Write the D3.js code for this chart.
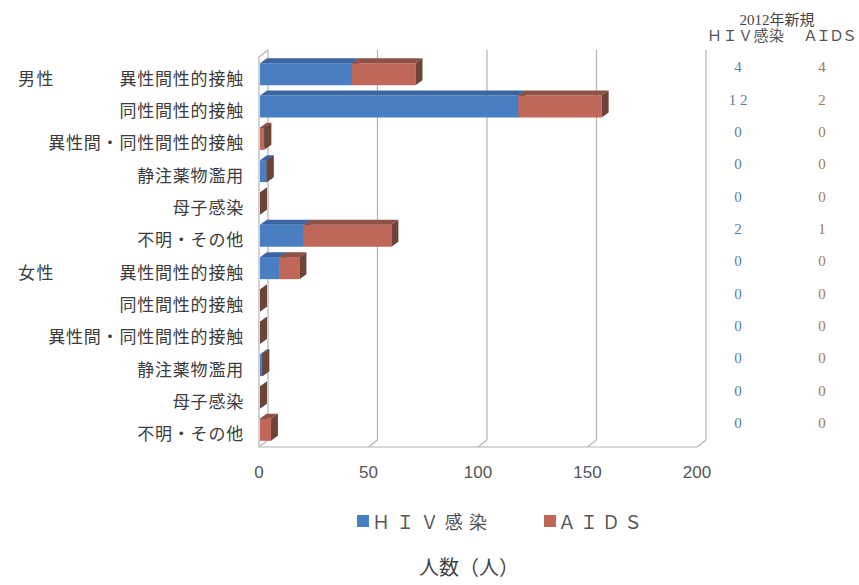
<!DOCTYPE html>
<html><head><meta charset="utf-8">
<script src="https://cdn.jsdelivr.net/npm/d3@7"></script>
<style>
body{margin:0;background:#fff;}
svg{display:block;}
</style></head>
<body>
<svg id="chart" width="859" height="585"></svg>
<script>
// ---- data ----
const groups = ["男性", "女性"];
const categories = ["異性間性的接触","同性間性的接触","異性間・同性間性的接触","静注薬物濫用","母子感染","不明・その他"];
const hivValues  = [42, 118, 0, 3, 0, 20,   9, 0, 0, 1, 0, 0];
const aidsValues = [29,  38, 2, 0, 0, 40,   9, 0, 0, 0, 0, 5];
const xTicks = [0, 50, 100, 150, 200];
const seriesNames = ["ＨＩＶ感染", "ＡＩＤＳ"];
const tableTitle = "2012年新規";
const tableHiv  = ["4","1 2","0","0","0","2","0","0","0","0","0","0"];
const tableAids = ["4","2","0","0","0","1","0","0","0","0","0","0"];
const axisTitle = "人数（人）";

// ---- build rows ----
const rows = [];
groups.forEach((g, gi) => categories.forEach((c, ci) => {
  const i = gi * categories.length + ci;
  rows.push({id: i, group: ci === 0 ? g : null, cat: c, hiv: hivValues[i], aids: aidsValues[i]});
}));

const svg = d3.select("#chart");
const colors = {
  hiv:  {front:"#4a7ec2", top:"#3b64a2", side:"#2f4d7e"},
  aids: {front:"#c0675a", top:"#8e5145", side:"#6c4538"}
};

const x = d3.scaleLinear().domain([0, 200]).range([259, 697]);
const y = d3.scaleBand().domain(rows.map(d => d.id)).range([56, 444]).paddingInner(0.32).paddingOuter(0.16);
const wdx = 9, wdy = -7;      // wall depth
const bdx = 7, bdy = -5;      // bar depth
const floorY = 447, topY = 57;
const gridColor = "#b4b4b4";

// ---- 3D frame ----
const frame = svg.append("g").attr("fill", "none").attr("stroke", gridColor).attr("stroke-width", 1.2);
xTicks.forEach(v => {
  const xb = x(v) + wdx;
  frame.append("path").attr("d", `M${xb},${topY + wdy}V${floorY + wdy}L${x(v)},${floorY}`);
});
frame.append("path").attr("d", `M${x(0)},${floorY}V${topY}L${x(0) + wdx},${topY + wdy}`);
frame.append("path").attr("d", `M${x(0)},${floorY}H${x(200)}`);

// ---- bars ----
function drawSeg(g, x0, x1, yTop, h, col) {
  const p = (pts) => "M" + pts.map(q => q.join(",")).join("L") + "Z";
  g.append("path").attr("d", p([[x0, yTop], [x1, yTop], [x1, yTop + h], [x0, yTop + h]])).attr("fill", col.front);
  g.append("path").attr("d", p([[x0, yTop], [x0 + bdx, yTop + bdy], [x1 + bdx, yTop + bdy], [x1, yTop]])).attr("fill", col.top);
  g.append("path").attr("d", p([[x1, yTop], [x1 + bdx, yTop + bdy], [x1 + bdx, yTop + h + bdy], [x1, yTop + h]])).attr("fill", col.side);
}
const bars = svg.append("g");
rows.forEach(d => {
  const g = bars.append("g");
  const yT = y(d.id) + 2, h = y.bandwidth();
  const x0 = x(0) + 1;
  const xh = x(d.hiv) + 1;
  const xa = x(d.hiv + d.aids) + 1;
  drawSeg(g, x0, xh, yT, h, colors.hiv);
  drawSeg(g, xh, xa, yT, h, colors.aids);
});

// ---- category labels ----
const lab = svg.append("g").attr("font-family", "'Noto Sans CJK JP', sans-serif").attr("fill", "#3c3c3c").attr("font-size", 17);
rows.forEach(d => {
  const cy = y(d.id) + y.bandwidth() / 2 + 5;
  lab.append("text").attr("x", 244).attr("y", cy).attr("text-anchor", "end")
    .attr("dominant-baseline", "central").attr("letter-spacing", 0.8).text(d.cat);
  if (d.group) lab.append("text").attr("x", 18).attr("y", cy)
    .attr("dominant-baseline", "central").attr("letter-spacing", 1.5).text(d.group);
});

// ---- x tick labels ----
svg.append("g").selectAll("text").data(xTicks).join("text")
  .attr("x", d => x(d)).attr("y", 472).attr("text-anchor", "middle").attr("dominant-baseline", "central")
  .attr("font-family", "'Liberation Sans', Arial, sans-serif").attr("font-size", 17).attr("fill", "#555")
  .text(d => d);

// ---- right table ----
const tb = svg.append("g").attr("font-family", "'Liberation Serif', 'Noto Sans CJK JP', serif");
tb.append("text").attr("x", 777).attr("y", 20).attr("text-anchor", "middle").attr("dominant-baseline", "central")
  .attr("font-size", 15).attr("fill", "#444").text(tableTitle);
tb.append("text").attr("x", 707).attr("y", 36).attr("dominant-baseline", "central")
  .attr("font-size", 15).attr("fill", "#555").attr("textLength", 77).attr("lengthAdjust", "spacing").text(seriesNames[0]);
tb.append("text").attr("x", 803).attr("y", 36).attr("dominant-baseline", "central")
  .attr("font-size", 15).attr("fill", "#555").attr("textLength", 54).attr("lengthAdjust", "spacing").text(seriesNames[1]);
rows.forEach((d, i) => {
  const cy = y(d.id) + y.bandwidth() / 2 - 5;
  tb.append("text").attr("x", 738).attr("y", cy).attr("text-anchor", "middle").attr("dominant-baseline", "central")
    .attr("font-size", 15).attr("fill", "#5a7ea9").text(tableHiv[i]);
  tb.append("text").attr("x", 822).attr("y", cy).attr("text-anchor", "middle").attr("dominant-baseline", "central")
    .attr("font-size", 15).attr("fill", "#a57a4c").text(tableAids[i]);
});

// ---- legend ----
const lg = svg.append("g").attr("font-family", "'Noto Sans CJK JP', serif").attr("font-size", 18).attr("fill", "#555");
[[357, 372, 115, colors.hiv.front], [544, 558, 84, colors.aids.front]].forEach((s, i) => {
  lg.append("rect").attr("x", s[0]).attr("y", 515).attr("width", 12).attr("height", 12).attr("fill", s[3]);
  lg.append("text").attr("x", s[1]).attr("y", 521).attr("dominant-baseline", "central")
    .attr("textLength", s[2]).attr("lengthAdjust", "spacing").text(seriesNames[i]);
});

// ---- axis title ----
svg.append("text").attr("x", 469).attr("y", 566).attr("text-anchor", "middle").attr("dominant-baseline", "central")
  .attr("font-family", "'Noto Sans CJK JP', sans-serif").attr("font-size", 20).attr("fill", "#444").text(axisTitle);
</script>
</body></html>
